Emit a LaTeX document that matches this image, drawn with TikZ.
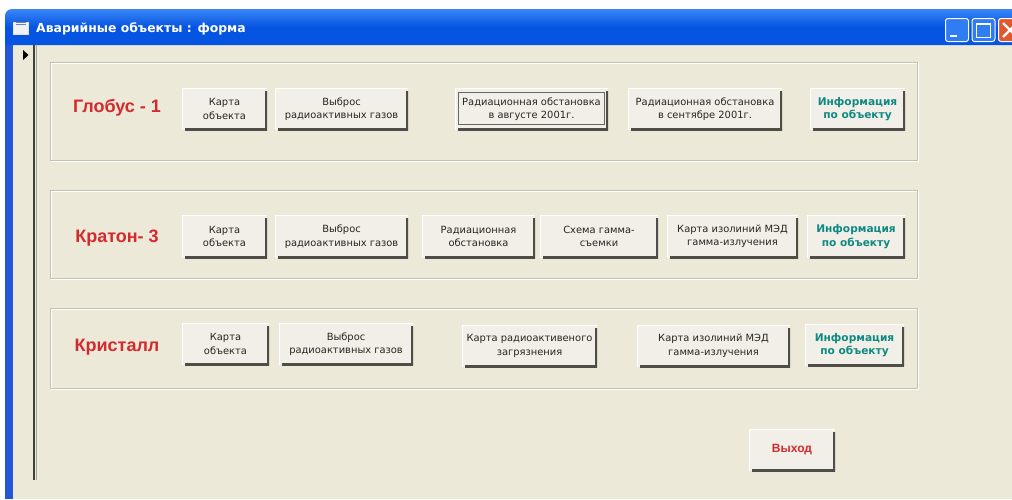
\documentclass[tikz,border=0pt]{standalone}
\usepackage{fontspec}
\setmainfont{DejaVu Sans}
\newfontfamily\lib{Liberation Sans}
\definecolor{bg}{HTML}{ECE9D8}
\definecolor{btnfill}{HTML}{F1EFE7}
\definecolor{btnshadow}{HTML}{4E4D47}
\definecolor{etchc}{HTML}{C3C0B0}
\definecolor{lblred}{HTML}{D32A2E}
\definecolor{infoteal}{HTML}{0F8A82}
\definecolor{xpblue}{HTML}{0654E2}
\definecolor{xplight}{HTML}{3A86F6}
\definecolor{xpborder}{HTML}{2457D8}
\definecolor{xpred}{HTML}{E2582E}
\tikzset{
  x=1pt, y=-1pt,
  btn/.style={inner sep=0pt, outer sep=0pt, align=center, fill=btnfill,
    font=\fontsize{9.9}{13.5}\selectfont, text=black!85,
    path picture={
      \draw[white, line width=2pt] (path picture bounding box.south west) -- (path picture bounding box.north west) -- (path picture bounding box.north east);
      \draw[btnshadow, line width=5pt] ([xshift=3pt]path picture bounding box.south west) -- (path picture bounding box.south east) -- ([yshift=-3pt]path picture bounding box.north east);
    }},
  infobtn/.style={btn, font=\bfseries\fontsize{10.6}{13.5}\selectfont, text=infoteal},
  grp/.style={draw=etchc, line width=1pt},
  grphi/.style={draw=white, line width=0.8pt},
  lbl/.style={font=\lib\bfseries\fontsize{18}{20}\selectfont, text=lblred, inner sep=0pt},
  ctl/.style={draw=white, line width=1pt, rounded corners=2.5pt, minimum width=23pt, minimum height=23pt, inner sep=0pt},
}
\begin{document}
\begin{tikzpicture}
\useasboundingbox (0,0) rectangle (1012,499);
\clip (0,0) rectangle (1012,499);
\fill[white] (0,0) rectangle (1012,499);
% window frame
\fill[xpborder] (5,20) rectangle (14,499);
\fill[bg] (13,45) rectangle (1012,499);
% title bar
\shade[top color=xplight, bottom color=xpblue, middle color=xpblue, rounded corners=7pt] (5,9) rectangle (1030,45);
\fill[xpblue] (5,30) rectangle (1030,45);
% title icon
\node[draw=white!80!gray, fill=white!90!gray, minimum width=15pt, minimum height=12pt, inner sep=0pt] (icon) at (21,28) {};
\draw[xpblue!70, line width=1pt] ([xshift=3pt,yshift=-3pt]icon.north west) -- ([xshift=-3pt,yshift=-3pt]icon.north east);
\draw[gray, line width=0.8pt] ([xshift=3pt,yshift=6pt]icon.west) -- ([xshift=-3pt,yshift=6pt]icon.east);
\node[anchor=west, text=white, font=\bfseries\fontsize{12.4}{14}\selectfont, inner sep=0pt] (title) at (36,28.5) {Аварийные объекты : форма};
% title bar controls
\node[ctl, fill=xplight!80!xpblue] (minb) at (957,30) {};
\fill[white] ([xshift=5pt,yshift=5pt]minb.south west) rectangle ([xshift=12pt,yshift=7.5pt]minb.south west);
\node[ctl, fill=xplight!80!xpblue] (maxb) at (983.5,30) {};
\draw[white, line width=1pt] ([xshift=5pt,yshift=-5pt]maxb.north west) rectangle ([xshift=-5pt,yshift=5pt]maxb.south east);
\draw[white, line width=2pt] ([xshift=5pt,yshift=-6pt]maxb.north west) -- ([xshift=-5pt,yshift=-6pt]maxb.north east);
\node[ctl, fill=xpred] (closeb) at (1010,30) {};
\draw[white, line width=2.2pt] ([xshift=5pt,yshift=-5pt]closeb.north west) -- ([xshift=-5pt,yshift=5pt]closeb.south east);
\draw[white, line width=2.2pt] ([xshift=5pt,yshift=5pt]closeb.south west) -- ([xshift=-5pt,yshift=-5pt]closeb.north east);
% record selector
\fill[black] (23,50) -- (28.5,55) -- (23,60) -- cycle;
\draw[black!75, line width=1.6pt] (34,45) -- (34,480);
\draw[black!35, line width=0.8pt] (36.5,45) -- (36.5,480);
% group boxes
\draw[grphi] (51,63) rectangle (918,161);
\draw[grp] (50,62) rectangle (917,160);
\draw[grphi] (51,191) rectangle (918,279);
\draw[grp] (50,190) rectangle (917,278);
\draw[grphi] (51,309) rectangle (918,389);
\draw[grp] (50,308) rectangle (917,388);
% row 1
\node[lbl] (l1) at (117,108) {Глобус - 1};
\node[btn, minimum width=85pt, minimum height=42pt] (b11) at (224.5,109) {Карта\\объекта};
\node[btn, minimum width=133pt, minimum height=42pt] (b12) at (341.5,109) {Выброс\\радиоактивных газов};
\node[btn, minimum width=153pt, minimum height=42pt] (b13) at (531.5,109) {Радиационная обстановка\\в августе 2001г.};
\draw[black!60, line width=0.6pt] ([xshift=3pt,yshift=-4pt]b13.north west) rectangle ([xshift=-4pt,yshift=6pt]b13.south east);
\node[btn, minimum width=154pt, minimum height=42pt] (b14) at (705,109) {Радиационная обстановка\\в сентябре 2001г.};
\node[infobtn, minimum width=95pt, minimum height=42pt] (b15) at (857.5,109) {Информация\\по объекту};
% row 2
\node[lbl] (l2) at (117,238) {Кратон- 3};
\node[btn, minimum width=85pt, minimum height=43pt] (b21) at (224.5,236.5) {Карта\\объекта};
\node[btn, minimum width=133pt, minimum height=43pt] (b22) at (341.5,236.5) {Выброс\\радиоактивных газов};
\node[btn, minimum width=113pt, minimum height=43pt] (b23) at (478.5,236.5) {Радиационная\\обстановка};
\node[btn, minimum width=118pt, minimum height=43pt] (b24) at (599,236.5) {Схема гамма-\\съемки};
\node[btn, minimum width=131pt, minimum height=43pt] (b25) at (732.5,236.5) {Карта изолиний МЭД\\гамма-излучения};
\node[infobtn, minimum width=98pt, minimum height=43pt] (b26) at (856,236.5) {Информация\\по объекту};
% row 3
\node[lbl] (l3) at (117,347) {Кристалл};
\node[btn, minimum width=87pt, minimum height=42pt] (b31) at (225.5,344) {Карта\\объекта};
\node[btn, minimum width=134pt, minimum height=42pt] (b32) at (346,344) {Выброс\\радиоактивных газов};
\node[btn, minimum width=135pt, minimum height=42pt] (b33) at (529.5,346) {Карта радиоактивеного\\загрязнения};
\node[btn, minimum width=153pt, minimum height=42pt] (b34) at (713.5,346) {Карта изолиний МЭД\\гамма-излучения};
\node[infobtn, minimum width=99pt, minimum height=42pt] (b35) at (854.5,345) {Информация\\по объекту};
% exit
\node[btn, font=\lib\bfseries\fontsize{12}{14}\selectfont, text=lblred, minimum width=86pt, minimum height=42pt] (exitb) at (792,450) {Выход};
\end{tikzpicture}
\end{document}
